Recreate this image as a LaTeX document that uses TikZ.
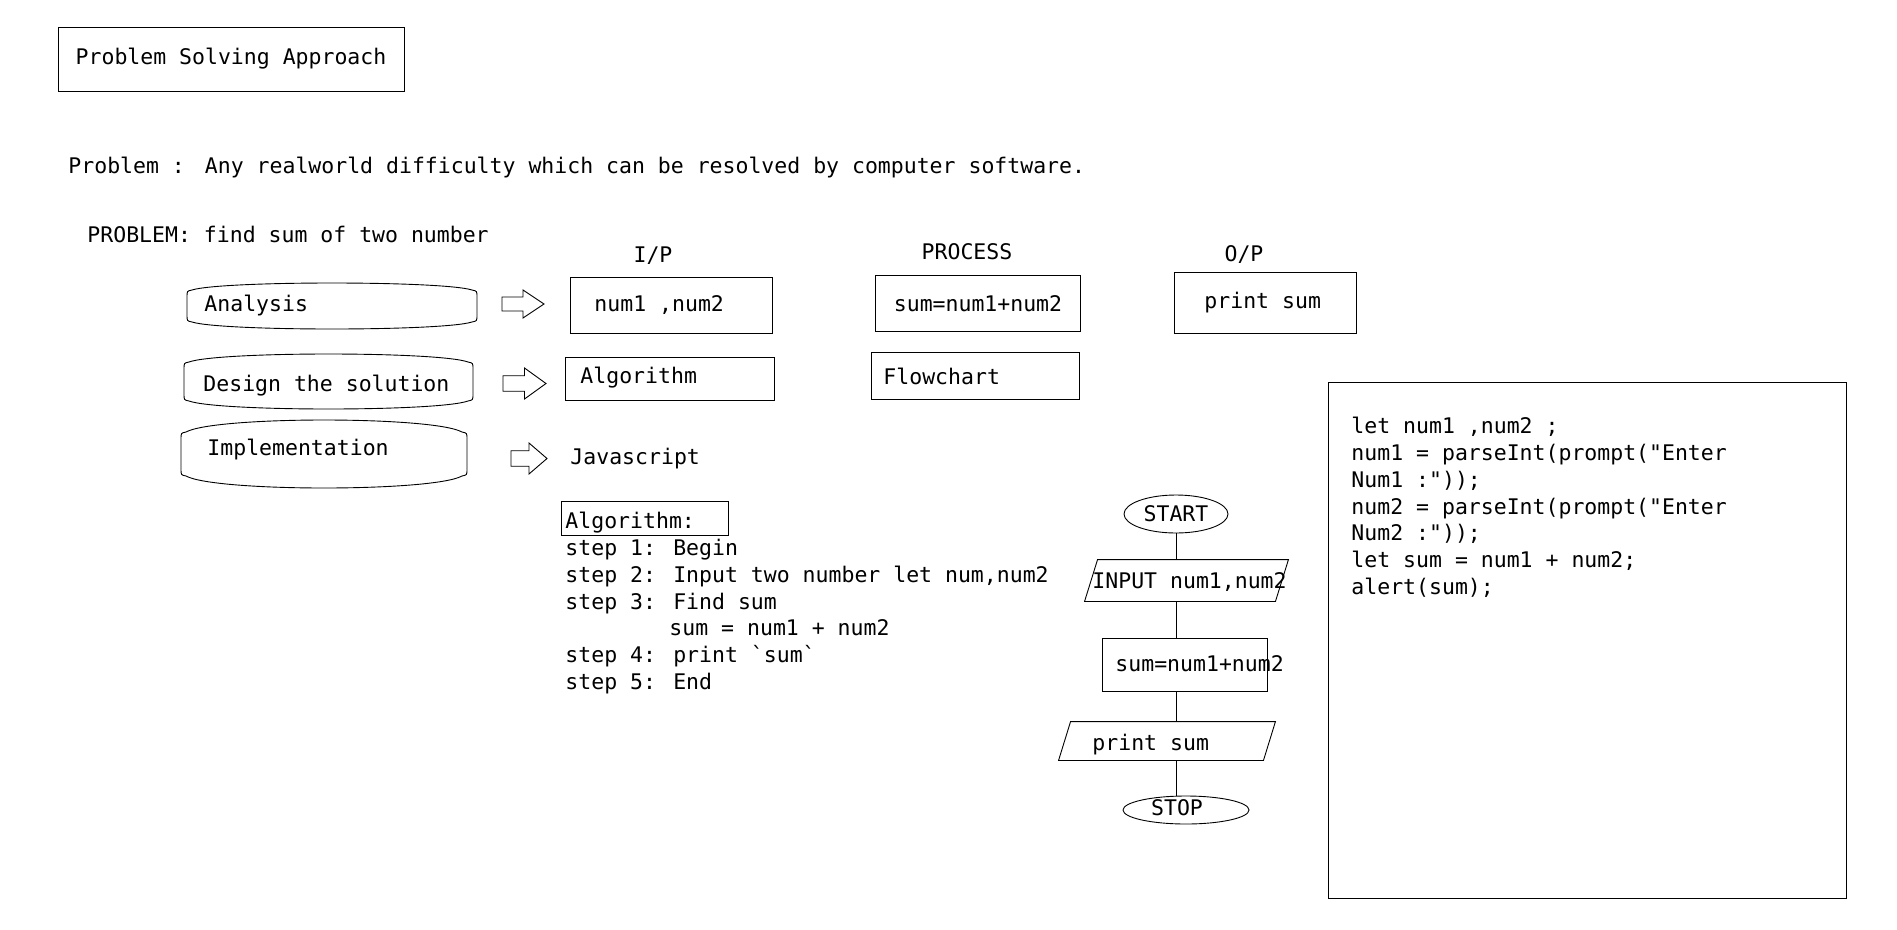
\documentclass[tikz,border=0pt]{standalone}
\usepackage{fontspec}
\newfontfamily\cons{DejaVu Sans Mono}
\usetikzlibrary{shapes.geometric}
% #1 x0, #2 top, #3 x1, #4 bottom, #5 bulge (page pixel coordinates)
\newcommand\capsule[5]{%
  \draw ({#1},{#2+#5+7}) -- ({#1},{#4-#5-7})
    .. controls ({#1},{#4-#5-1}) .. ({#1+5},{#4-#5})
    .. controls ({#1+0.12*(#3-#1)},{#4+#5/3}) and ({#3-0.12*(#3-#1)},{#4+#5/3}) .. ({#3-5},{#4-#5})
    .. controls ({#3},{#4-#5-1}) .. ({#3},{#4-#5-7})
    -- ({#3},{#2+#5+7})
    .. controls ({#3},{#2+#5+1}) .. ({#3-5},{#2+#5})
    .. controls ({#3-0.12*(#3-#1)},{#2-#5/3}) and ({#1+0.12*(#3-#1)},{#2-#5/3}) .. ({#1+5},{#2+#5})
    .. controls ({#1},{#2+#5+1}) .. ({#1},{#2+#5+7}) -- cycle;}
% block arrow: #1 x0, #2 y0, #3 x1, #4 y1
\newcommand\blockarrow[4]{%
  \draw ({#1},{#2+(#4-#2)/4}) -- ({(#1+#3)/2},{#2+(#4-#2)/4}) -- ({(#1+#3)/2},{#2})
    -- ({#3},{(#2+#4)/2}) -- ({(#1+#3)/2},{#4}) -- ({(#1+#3)/2},{#4-(#4-#2)/4})
    -- ({#1},{#4-(#4-#2)/4}) -- cycle;}
\begin{document}
\begin{tikzpicture}[x=1pt,y=-1pt,line width=0.9pt,
  every node/.style={font=\cons\fontsize{21.5pt}{26.9pt}\selectfont, inner sep=0pt},
  txt/.style={anchor=base west},
  ctxt/.style={anchor=base},
  shapebox/.style={draw, rectangle},
  hidden/.style={rectangle, draw=none}]
\useasboundingbox (0,0) rectangle (1897,929);
\fill[white] (0,0) rectangle (1897,929);

% title
\node[shapebox, minimum width=346pt, minimum height=64pt] (title) at (231,59) {Problem Solving Approach};

\node[txt] (prob) at (68,173) {Problem :\hspace{20pt}Any realworld difficulty which can be resolved by computer software.};
\node[txt] (PROB) at (87,242) {PROBLEM: find sum of two number};

\node[ctxt] (ip) at (653,262) {I/P};
\node[ctxt] (process) at (967,259) {PROCESS};
\node[ctxt] (op) at (1244,261) {O/P};

% left capsules
\capsule{187}{283}{477}{329}{7}
\node[txt] (ana) at (204,311) {Analysis};
\capsule{184}{354}{473}{409}{8}
\node[txt] (des) at (203,391) {Design the solution};
\capsule{181}{420}{467}{488}{12}
\node[txt] (imp) at (207,455) {Implementation};

% block arrows
\blockarrow{502}{290}{544}{318}
\blockarrow{503}{368}{546}{399}
\blockarrow{511}{443}{547}{474}

% row boxes
\draw (570,277) rectangle (772,333);
\node[txt] (nums) at (594,311) {num1 ,num2};
\draw (875,275) rectangle (1080,331);
\node[ctxt] (sumt) at (978,311) {sum=num1+num2};
\draw (1174,272) rectangle (1356,333);
\node[txt] (prints) at (1204,308) {print sum};
\draw (565,357) rectangle (774,400);
\node[txt] (algo) at (580,383) {Algorithm};
\draw (871,352) rectangle (1079,399);
\node[txt] (flow) at (883,384) {Flowchart};
\node[txt] (js) at (570,464) {Javascript};

% algorithm listing
\draw (561,501) rectangle (728,535);
\node[txt] (a0) at (565,528) {Algorithm:};
\node[txt] (a1) at (565,555) {step 1: Begin};
\node[txt] (a2) at (565,582) {step 2: Input two number let num,num2};
\node[txt] (a3) at (565,609) {step 3: Find sum};
\node[txt] (a4) at (669,635) {sum = num1 + num2};
\node[txt] (a5) at (565,662) {step 4: print \symbol{96}sum\symbol{96}};
\node[txt] (a6) at (565,689) {step 5: End};

% flowchart
\node[ellipse, draw, minimum width=104pt, minimum height=38pt] (start) at (1176,514) {START};
\node[hidden, minimum width=190pt, minimum height=41pt] (inp) at (1186.5,580.5) {};
\draw ([xshift=6.5pt]inp.north west) -- ([xshift=6.5pt]inp.north east)
   -- ([xshift=-6.5pt]inp.south east) -- ([xshift=-6.5pt]inp.south west) -- cycle;
\node[txt] (inpt) at (1092,588) {INPUT num1,num2};
\node[shapebox, minimum width=165pt, minimum height=53pt] (proc) at (1184.5,664.5) {};
\node[txt] (proct) at (1115,671) {sum=num1+num2};
\node[hidden, minimum width=204pt, minimum height=38pt] (prt) at (1167,741) {};
\draw ([xshift=6pt]prt.north west) -- ([xshift=6pt]prt.north east)
   -- ([xshift=-6pt]prt.south east) -- ([xshift=-6pt]prt.south west) -- cycle;
\node[txt] (prtt) at (1092,750) {print sum};
\node[ellipse, draw, minimum width=126pt, minimum height=28pt] (stop) at (1186,810) {};
\node[ctxt] (stopt) at (1177,815) {STOP};

\draw (start.south) -- (inp.north -| start.south);
\draw (inp.south -| start.south) -- (proc.north -| start.south);
\draw (proc.south -| start.south) -- (prt.north -| start.south);
\draw (prt.south -| start.south) -- (stop.north -| start.south);

% code box
\draw (1328,382) rectangle (1846,898);
\node[txt] (c1) at (1351,433) {let num1 ,num2 ;};
\node[txt] (c2) at (1351,460) {num1 = parseInt(prompt("Enter};
\node[txt] (c3) at (1351,487) {Num1 :"));};
\node[txt] (c4) at (1351,514) {num2 = parseInt(prompt("Enter};
\node[txt] (c5) at (1351,540) {Num2 :"));};
\node[txt] (c6) at (1351,567) {let sum = num1 + num2;};
\node[txt] (c7) at (1351,594) {alert(sum);};
\end{tikzpicture}
\end{document}
